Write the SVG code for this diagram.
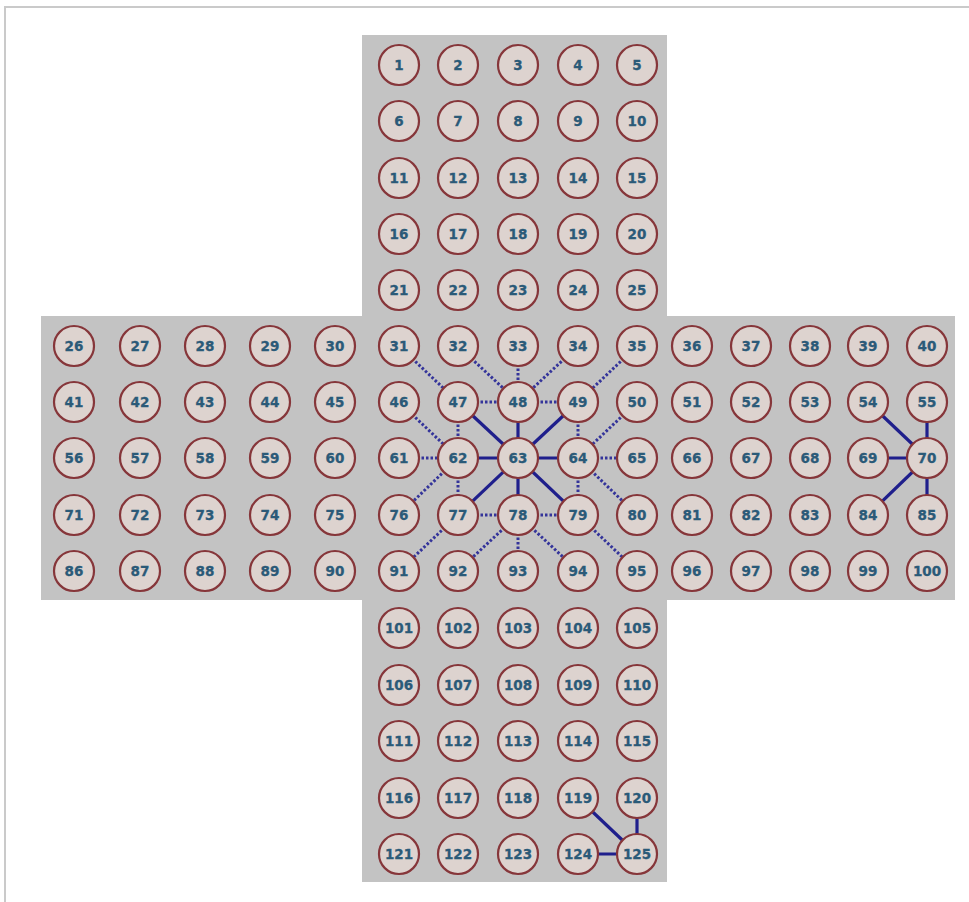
<svg xmlns="http://www.w3.org/2000/svg" width="969" height="902" viewBox="0 0 969 902">
<style>
.n circle{fill:#ddd3cf;stroke:#86363a;stroke-width:2.2}
.n text{font-family:"DejaVu Sans",Verdana,sans-serif;font-weight:bold;font-size:13.5px;fill:#2b5a78;stroke:#2b5a78;stroke-width:0.3;text-anchor:middle}
.s{stroke:#1f1f8c;stroke-width:3.2;fill:none}
.d{stroke:#34349a;stroke-width:3;stroke-dasharray:2.5 2;fill:none}
</style>
<rect width="969" height="902" fill="#fff"/>
<path d="M5 902V7H969" fill="none" stroke="#cacaca" stroke-width="2"/>
<g id="board" fill="#c3c3c3">
<rect x="362" y="35" width="305" height="847"/>
<rect x="41" y="316" width="914" height="284"/>
</g>
<g id="connectors">
<line class="s" x1="518" y1="458" x2="458" y2="402"/>
<line class="s" x1="518" y1="458" x2="518" y2="402"/>
<line class="s" x1="518" y1="458" x2="578" y2="402"/>
<line class="s" x1="518" y1="458" x2="458" y2="458"/>
<line class="s" x1="518" y1="458" x2="578" y2="458"/>
<line class="s" x1="518" y1="458" x2="458" y2="515"/>
<line class="s" x1="518" y1="458" x2="518" y2="515"/>
<line class="s" x1="518" y1="458" x2="578" y2="515"/>
<line class="d" x1="399" y1="346" x2="458" y2="402"/>
<line class="d" x1="458" y1="346" x2="518" y2="402"/>
<line class="d" x1="518" y1="346" x2="518" y2="402"/>
<line class="d" x1="578" y1="346" x2="518" y2="402"/>
<line class="d" x1="637" y1="346" x2="578" y2="402"/>
<line class="d" x1="458" y1="402" x2="518" y2="402"/>
<line class="d" x1="518" y1="402" x2="578" y2="402"/>
<line class="d" x1="399" y1="402" x2="458" y2="458"/>
<line class="d" x1="458" y1="402" x2="458" y2="458"/>
<line class="d" x1="578" y1="402" x2="578" y2="458"/>
<line class="d" x1="637" y1="402" x2="578" y2="458"/>
<line class="d" x1="399" y1="458" x2="458" y2="458"/>
<line class="d" x1="578" y1="458" x2="637" y2="458"/>
<line class="d" x1="458" y1="458" x2="399" y2="515"/>
<line class="d" x1="458" y1="458" x2="458" y2="515"/>
<line class="d" x1="578" y1="458" x2="578" y2="515"/>
<line class="d" x1="578" y1="458" x2="637" y2="515"/>
<line class="d" x1="458" y1="515" x2="518" y2="515"/>
<line class="d" x1="518" y1="515" x2="578" y2="515"/>
<line class="d" x1="458" y1="515" x2="399" y2="571"/>
<line class="d" x1="518" y1="515" x2="458" y2="571"/>
<line class="d" x1="518" y1="515" x2="518" y2="571"/>
<line class="d" x1="518" y1="515" x2="578" y2="571"/>
<line class="d" x1="578" y1="515" x2="637" y2="571"/>
<line class="s" x1="927" y1="458" x2="868" y2="402"/>
<line class="s" x1="927" y1="458" x2="927" y2="402"/>
<line class="s" x1="927" y1="458" x2="868" y2="458"/>
<line class="s" x1="927" y1="458" x2="868" y2="515"/>
<line class="s" x1="927" y1="458" x2="927" y2="515"/>
<line class="s" x1="637" y1="854" x2="578" y2="798"/>
<line class="s" x1="637" y1="854" x2="637" y2="798"/>
<line class="s" x1="637" y1="854" x2="578" y2="854"/>
</g>
<g id="nodes">
<g id="n1" class="n" transform="translate(399,65)"><circle r="20"/><text y="5">1</text></g>
<g id="n2" class="n" transform="translate(458,65)"><circle r="20"/><text y="5">2</text></g>
<g id="n3" class="n" transform="translate(518,65)"><circle r="20"/><text y="5">3</text></g>
<g id="n4" class="n" transform="translate(578,65)"><circle r="20"/><text y="5">4</text></g>
<g id="n5" class="n" transform="translate(637,65)"><circle r="20"/><text y="5">5</text></g>
<g id="n6" class="n" transform="translate(399,121)"><circle r="20"/><text y="5">6</text></g>
<g id="n7" class="n" transform="translate(458,121)"><circle r="20"/><text y="5">7</text></g>
<g id="n8" class="n" transform="translate(518,121)"><circle r="20"/><text y="5">8</text></g>
<g id="n9" class="n" transform="translate(578,121)"><circle r="20"/><text y="5">9</text></g>
<g id="n10" class="n" transform="translate(637,121)"><circle r="20"/><text y="5">10</text></g>
<g id="n11" class="n" transform="translate(399,178)"><circle r="20"/><text y="5">11</text></g>
<g id="n12" class="n" transform="translate(458,178)"><circle r="20"/><text y="5">12</text></g>
<g id="n13" class="n" transform="translate(518,178)"><circle r="20"/><text y="5">13</text></g>
<g id="n14" class="n" transform="translate(578,178)"><circle r="20"/><text y="5">14</text></g>
<g id="n15" class="n" transform="translate(637,178)"><circle r="20"/><text y="5">15</text></g>
<g id="n16" class="n" transform="translate(399,234)"><circle r="20"/><text y="5">16</text></g>
<g id="n17" class="n" transform="translate(458,234)"><circle r="20"/><text y="5">17</text></g>
<g id="n18" class="n" transform="translate(518,234)"><circle r="20"/><text y="5">18</text></g>
<g id="n19" class="n" transform="translate(578,234)"><circle r="20"/><text y="5">19</text></g>
<g id="n20" class="n" transform="translate(637,234)"><circle r="20"/><text y="5">20</text></g>
<g id="n21" class="n" transform="translate(399,290)"><circle r="20"/><text y="5">21</text></g>
<g id="n22" class="n" transform="translate(458,290)"><circle r="20"/><text y="5">22</text></g>
<g id="n23" class="n" transform="translate(518,290)"><circle r="20"/><text y="5">23</text></g>
<g id="n24" class="n" transform="translate(578,290)"><circle r="20"/><text y="5">24</text></g>
<g id="n25" class="n" transform="translate(637,290)"><circle r="20"/><text y="5">25</text></g>
<g id="n26" class="n" transform="translate(74,346)"><circle r="20"/><text y="5">26</text></g>
<g id="n27" class="n" transform="translate(140,346)"><circle r="20"/><text y="5">27</text></g>
<g id="n28" class="n" transform="translate(205,346)"><circle r="20"/><text y="5">28</text></g>
<g id="n29" class="n" transform="translate(270,346)"><circle r="20"/><text y="5">29</text></g>
<g id="n30" class="n" transform="translate(335,346)"><circle r="20"/><text y="5">30</text></g>
<g id="n31" class="n" transform="translate(399,346)"><circle r="20"/><text y="5">31</text></g>
<g id="n32" class="n" transform="translate(458,346)"><circle r="20"/><text y="5">32</text></g>
<g id="n33" class="n" transform="translate(518,346)"><circle r="20"/><text y="5">33</text></g>
<g id="n34" class="n" transform="translate(578,346)"><circle r="20"/><text y="5">34</text></g>
<g id="n35" class="n" transform="translate(637,346)"><circle r="20"/><text y="5">35</text></g>
<g id="n36" class="n" transform="translate(692,346)"><circle r="20"/><text y="5">36</text></g>
<g id="n37" class="n" transform="translate(751,346)"><circle r="20"/><text y="5">37</text></g>
<g id="n38" class="n" transform="translate(810,346)"><circle r="20"/><text y="5">38</text></g>
<g id="n39" class="n" transform="translate(868,346)"><circle r="20"/><text y="5">39</text></g>
<g id="n40" class="n" transform="translate(927,346)"><circle r="20"/><text y="5">40</text></g>
<g id="n41" class="n" transform="translate(74,402)"><circle r="20"/><text y="5">41</text></g>
<g id="n42" class="n" transform="translate(140,402)"><circle r="20"/><text y="5">42</text></g>
<g id="n43" class="n" transform="translate(205,402)"><circle r="20"/><text y="5">43</text></g>
<g id="n44" class="n" transform="translate(270,402)"><circle r="20"/><text y="5">44</text></g>
<g id="n45" class="n" transform="translate(335,402)"><circle r="20"/><text y="5">45</text></g>
<g id="n46" class="n" transform="translate(399,402)"><circle r="20"/><text y="5">46</text></g>
<g id="n47" class="n" transform="translate(458,402)"><circle r="20"/><text y="5">47</text></g>
<g id="n48" class="n" transform="translate(518,402)"><circle r="20"/><text y="5">48</text></g>
<g id="n49" class="n" transform="translate(578,402)"><circle r="20"/><text y="5">49</text></g>
<g id="n50" class="n" transform="translate(637,402)"><circle r="20"/><text y="5">50</text></g>
<g id="n51" class="n" transform="translate(692,402)"><circle r="20"/><text y="5">51</text></g>
<g id="n52" class="n" transform="translate(751,402)"><circle r="20"/><text y="5">52</text></g>
<g id="n53" class="n" transform="translate(810,402)"><circle r="20"/><text y="5">53</text></g>
<g id="n54" class="n" transform="translate(868,402)"><circle r="20"/><text y="5">54</text></g>
<g id="n55" class="n" transform="translate(927,402)"><circle r="20"/><text y="5">55</text></g>
<g id="n56" class="n" transform="translate(74,458)"><circle r="20"/><text y="5">56</text></g>
<g id="n57" class="n" transform="translate(140,458)"><circle r="20"/><text y="5">57</text></g>
<g id="n58" class="n" transform="translate(205,458)"><circle r="20"/><text y="5">58</text></g>
<g id="n59" class="n" transform="translate(270,458)"><circle r="20"/><text y="5">59</text></g>
<g id="n60" class="n" transform="translate(335,458)"><circle r="20"/><text y="5">60</text></g>
<g id="n61" class="n" transform="translate(399,458)"><circle r="20"/><text y="5">61</text></g>
<g id="n62" class="n" transform="translate(458,458)"><circle r="20"/><text y="5">62</text></g>
<g id="n63" class="n" transform="translate(518,458)"><circle r="20"/><text y="5">63</text></g>
<g id="n64" class="n" transform="translate(578,458)"><circle r="20"/><text y="5">64</text></g>
<g id="n65" class="n" transform="translate(637,458)"><circle r="20"/><text y="5">65</text></g>
<g id="n66" class="n" transform="translate(692,458)"><circle r="20"/><text y="5">66</text></g>
<g id="n67" class="n" transform="translate(751,458)"><circle r="20"/><text y="5">67</text></g>
<g id="n68" class="n" transform="translate(810,458)"><circle r="20"/><text y="5">68</text></g>
<g id="n69" class="n" transform="translate(868,458)"><circle r="20"/><text y="5">69</text></g>
<g id="n70" class="n" transform="translate(927,458)"><circle r="20"/><text y="5">70</text></g>
<g id="n71" class="n" transform="translate(74,515)"><circle r="20"/><text y="5">71</text></g>
<g id="n72" class="n" transform="translate(140,515)"><circle r="20"/><text y="5">72</text></g>
<g id="n73" class="n" transform="translate(205,515)"><circle r="20"/><text y="5">73</text></g>
<g id="n74" class="n" transform="translate(270,515)"><circle r="20"/><text y="5">74</text></g>
<g id="n75" class="n" transform="translate(335,515)"><circle r="20"/><text y="5">75</text></g>
<g id="n76" class="n" transform="translate(399,515)"><circle r="20"/><text y="5">76</text></g>
<g id="n77" class="n" transform="translate(458,515)"><circle r="20"/><text y="5">77</text></g>
<g id="n78" class="n" transform="translate(518,515)"><circle r="20"/><text y="5">78</text></g>
<g id="n79" class="n" transform="translate(578,515)"><circle r="20"/><text y="5">79</text></g>
<g id="n80" class="n" transform="translate(637,515)"><circle r="20"/><text y="5">80</text></g>
<g id="n81" class="n" transform="translate(692,515)"><circle r="20"/><text y="5">81</text></g>
<g id="n82" class="n" transform="translate(751,515)"><circle r="20"/><text y="5">82</text></g>
<g id="n83" class="n" transform="translate(810,515)"><circle r="20"/><text y="5">83</text></g>
<g id="n84" class="n" transform="translate(868,515)"><circle r="20"/><text y="5">84</text></g>
<g id="n85" class="n" transform="translate(927,515)"><circle r="20"/><text y="5">85</text></g>
<g id="n86" class="n" transform="translate(74,571)"><circle r="20"/><text y="5">86</text></g>
<g id="n87" class="n" transform="translate(140,571)"><circle r="20"/><text y="5">87</text></g>
<g id="n88" class="n" transform="translate(205,571)"><circle r="20"/><text y="5">88</text></g>
<g id="n89" class="n" transform="translate(270,571)"><circle r="20"/><text y="5">89</text></g>
<g id="n90" class="n" transform="translate(335,571)"><circle r="20"/><text y="5">90</text></g>
<g id="n91" class="n" transform="translate(399,571)"><circle r="20"/><text y="5">91</text></g>
<g id="n92" class="n" transform="translate(458,571)"><circle r="20"/><text y="5">92</text></g>
<g id="n93" class="n" transform="translate(518,571)"><circle r="20"/><text y="5">93</text></g>
<g id="n94" class="n" transform="translate(578,571)"><circle r="20"/><text y="5">94</text></g>
<g id="n95" class="n" transform="translate(637,571)"><circle r="20"/><text y="5">95</text></g>
<g id="n96" class="n" transform="translate(692,571)"><circle r="20"/><text y="5">96</text></g>
<g id="n97" class="n" transform="translate(751,571)"><circle r="20"/><text y="5">97</text></g>
<g id="n98" class="n" transform="translate(810,571)"><circle r="20"/><text y="5">98</text></g>
<g id="n99" class="n" transform="translate(868,571)"><circle r="20"/><text y="5">99</text></g>
<g id="n100" class="n" transform="translate(927,571)"><circle r="20"/><text y="5">100</text></g>
<g id="n101" class="n" transform="translate(399,628)"><circle r="20"/><text y="5">101</text></g>
<g id="n102" class="n" transform="translate(458,628)"><circle r="20"/><text y="5">102</text></g>
<g id="n103" class="n" transform="translate(518,628)"><circle r="20"/><text y="5">103</text></g>
<g id="n104" class="n" transform="translate(578,628)"><circle r="20"/><text y="5">104</text></g>
<g id="n105" class="n" transform="translate(637,628)"><circle r="20"/><text y="5">105</text></g>
<g id="n106" class="n" transform="translate(399,685)"><circle r="20"/><text y="5">106</text></g>
<g id="n107" class="n" transform="translate(458,685)"><circle r="20"/><text y="5">107</text></g>
<g id="n108" class="n" transform="translate(518,685)"><circle r="20"/><text y="5">108</text></g>
<g id="n109" class="n" transform="translate(578,685)"><circle r="20"/><text y="5">109</text></g>
<g id="n110" class="n" transform="translate(637,685)"><circle r="20"/><text y="5">110</text></g>
<g id="n111" class="n" transform="translate(399,741)"><circle r="20"/><text y="5">111</text></g>
<g id="n112" class="n" transform="translate(458,741)"><circle r="20"/><text y="5">112</text></g>
<g id="n113" class="n" transform="translate(518,741)"><circle r="20"/><text y="5">113</text></g>
<g id="n114" class="n" transform="translate(578,741)"><circle r="20"/><text y="5">114</text></g>
<g id="n115" class="n" transform="translate(637,741)"><circle r="20"/><text y="5">115</text></g>
<g id="n116" class="n" transform="translate(399,798)"><circle r="20"/><text y="5">116</text></g>
<g id="n117" class="n" transform="translate(458,798)"><circle r="20"/><text y="5">117</text></g>
<g id="n118" class="n" transform="translate(518,798)"><circle r="20"/><text y="5">118</text></g>
<g id="n119" class="n" transform="translate(578,798)"><circle r="20"/><text y="5">119</text></g>
<g id="n120" class="n" transform="translate(637,798)"><circle r="20"/><text y="5">120</text></g>
<g id="n121" class="n" transform="translate(399,854)"><circle r="20"/><text y="5">121</text></g>
<g id="n122" class="n" transform="translate(458,854)"><circle r="20"/><text y="5">122</text></g>
<g id="n123" class="n" transform="translate(518,854)"><circle r="20"/><text y="5">123</text></g>
<g id="n124" class="n" transform="translate(578,854)"><circle r="20"/><text y="5">124</text></g>
<g id="n125" class="n" transform="translate(637,854)"><circle r="20"/><text y="5">125</text></g>
</g>
</svg>
